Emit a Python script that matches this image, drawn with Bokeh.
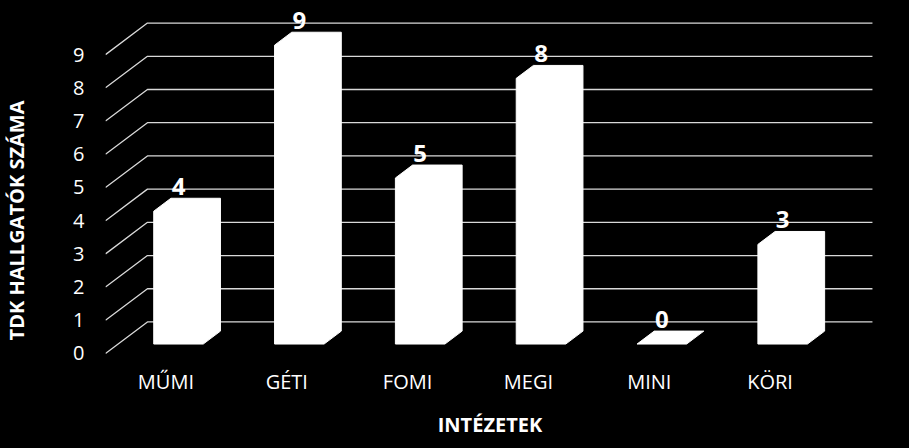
from bokeh.plotting import figure
from bokeh.models import Range1d, FixedTicker, ColumnDataSource, GlobalInlineStyleSheet
from bokeh.core.properties import value
from bokeh.embed import file_html
from bokeh.resources import INLINE

# adatok
intezetek = ["MŰMI", "GÉTI", "FOMI", "MEGI", "MINI", "KÖRI"]
hallgatok = [4, 9, 5, 8, 0, 3]
y_ticks = [0, 1, 2, 3, 4, 5, 6, 7, 8, 9]

FONT = "Open Sans"
GRID = "#d9d9d9"

# 3D hatas: a hatso fal eltolasa (adategysegben)
DX, DY = 0.347, 0.95
F0, F1 = 0.30, 0.71   # oszlop elso / hatso sikja
W = 0.41              # oszlop szelessege

n = len(intezetek)
p = figure(width=893, height=440, output_backend="svg", toolbar_location=None,
           x_range=Range1d(0, 6.364), y_range=Range1d(-2.62, 10.63),
           min_border_left=104, min_border_right=19, min_border_top=0,
           min_border_bottom=0, background_fill_color="black",
           border_fill_color="black", outline_line_color=None)
p.stylesheets = [GlobalInlineStyleSheet(css="html, body { background-color: #000000; }")]
p.grid.visible = False

# racsvonalak: atlos a bal falon + vizszintes a hatso falon
xs, ys = [], []
for t in y_ticks:
    xs.append([0, DX, n + DX])
    ys.append([t, t + DY, t + DY])
p.multi_line(xs, ys, line_color=GRID, line_width=1.3)

# oszlopok
px, py = [], []
for i, v in enumerate(hallgatok):
    c = i + 0.5
    xl, xr = c - W / 2, c + W / 2
    px.append([xl + F0 * DX, xl + F0 * DX, xl + F1 * DX, xr + F1 * DX, xr + F1 * DX, xr + F0 * DX])
    py.append([F0 * DY, v + F0 * DY, v + F1 * DY, v + F1 * DY, F1 * DY, F0 * DY])
p.patches(px, py, fill_color="white", line_color="white", line_width=1)

# ertekcimkek
lab = ColumnDataSource(dict(
    x=[i + 0.5 + F0 * DX for i in range(n)],
    y=[v + F1 * DY + 0.1 for v in hallgatok],
    t=[str(v) for v in hallgatok]))
p.text(x="x", y="y", text="t", source=lab, text_color="white",
       text_font=value(FONT), text_font_style="bold", text_font_size="24px",
       text_align="center", text_baseline="bottom")

# tengelyek
p.yaxis.ticker = FixedTicker(ticks=y_ticks)
p.yaxis.axis_line_color = None
p.yaxis.major_tick_line_color = None
p.yaxis.minor_tick_line_color = None
p.yaxis.major_tick_out = 0
p.yaxis.major_label_standoff = 21
p.yaxis.major_label_text_color = "white"
p.yaxis.major_label_text_font = FONT
p.yaxis.major_label_text_font_size = "20px"
p.yaxis.axis_label = "TDK HALLGATÓK SZÁMA"
p.yaxis.axis_label_text_color = "white"
p.yaxis.axis_label_text_font = FONT
p.yaxis.axis_label_text_font_style = "bold"
p.yaxis.axis_label_text_font_size = "20px"
p.yaxis.axis_label_standoff = 40

# x tengely a kereten belul, a 0 szint alatt
p.xaxis.fixed_location = -0.21
p.xaxis.ticker = FixedTicker(ticks=[i + 0.5 for i in range(n)])
p.xaxis.major_label_overrides = {i + 0.5: name for i, name in enumerate(intezetek)}
p.xaxis.axis_line_color = None
p.xaxis.major_tick_line_color = None
p.xaxis.minor_tick_line_color = None
p.xaxis.major_tick_out = 0
p.xaxis.major_label_standoff = 8
p.xaxis.major_label_text_color = "white"
p.xaxis.major_label_text_font = FONT
p.xaxis.major_label_text_font_size = "20px"
p.xaxis.axis_label = "INTÉZETEK"
p.xaxis.axis_label_text_color = "white"
p.xaxis.axis_label_text_font = FONT
p.xaxis.axis_label_text_font_style = "bold"
p.xaxis.axis_label_text_font_size = "20px"
p.xaxis.axis_label_standoff = 12

open("out.html", "w").write(file_html(p, INLINE))
